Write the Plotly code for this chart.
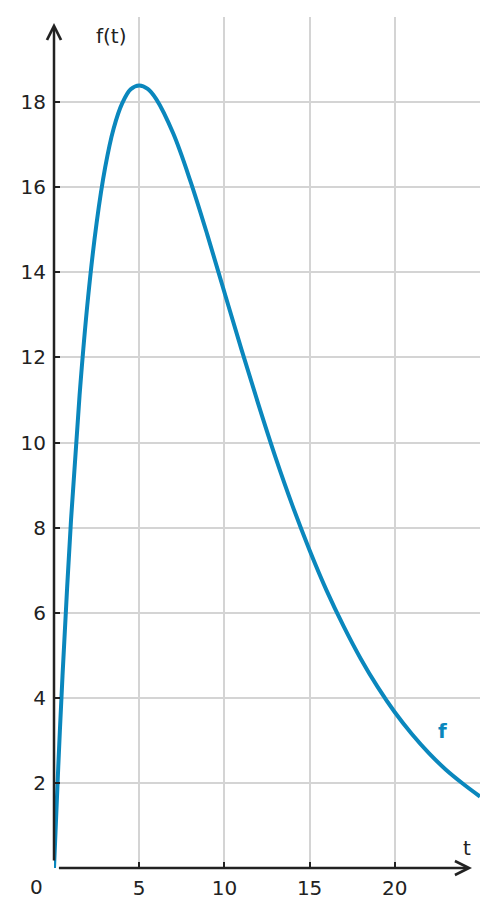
import plotly.graph_objects as go

# values
t = [0, 0.25, 0.5, 1, 1.5, 2, 2.5, 3, 3.5, 4, 4.5, 5, 5.5, 6, 7, 8, 9, 10,
     11, 12, 13, 14, 15, 16, 17, 18, 19, 20, 21, 22, 23, 24, 25]
f = [0, 2.38, 4.52, 8.19, 11.11, 13.41, 15.16, 16.46, 17.38, 17.97, 18.30, 18.39,
     18.31, 18.07, 17.26, 16.15, 14.88, 13.53, 12.19, 10.89, 9.65, 8.51, 7.47,
     6.52, 5.68, 4.92, 4.25, 3.66, 3.15, 2.70, 2.31, 1.98, 1.68]

x_ticks = [5, 10, 15, 20]
y_ticks = [2, 4, 6, 8, 10, 12, 14, 16, 18]

BLUE = "#0a87bd"
INK = "#222222"
GRID = "#d4d4d4"
FONT = "DejaVu Sans"
FS = 20

fig = go.Figure()

fig.add_trace(go.Scatter(
    x=t, y=f,
    mode="lines",
    line=dict(color=BLUE, width=4, shape="spline"),
    hoverinfo="skip",
    showlegend=False,
))

# axis arrows
fig.add_annotation(x=24.53, y=0, ax=0.2, ay=0, xref="x", yref="y", axref="x", ayref="y",
                   text="", showarrow=True, arrowhead=5, arrowsize=1.1, arrowwidth=2.5,
                   arrowcolor=INK)
fig.add_annotation(x=0, y=19.86, ax=0, ay=0.14, xref="x", yref="y", axref="x", ayref="y",
                   text="", showarrow=True, arrowhead=5, arrowsize=1.1, arrowwidth=2.5,
                   arrowcolor=INK)

# labels
fig.add_annotation(x=3.35, y=19.55, xref="x", yref="y", text="f(t)", showarrow=False,
                   font=dict(family=FONT, size=FS, color=INK))
fig.add_annotation(x=24.24, y=0.47, xref="x", yref="y", text="t", showarrow=False,
                   font=dict(family=FONT, size=FS, color=INK))
fig.add_annotation(x=-0.040, y=-0.0223, xref="paper", yref="paper", text="0", showarrow=False,
                   xanchor="center", yanchor="middle",
                   font=dict(family=FONT, size=FS, color=INK))
fig.add_annotation(x=22.77, y=3.22, xref="x", yref="y", text="<b>f</b>", showarrow=False,
                   font=dict(family=FONT, size=FS, color=BLUE))

fig.update_xaxes(
    range=[0, 25], tickvals=x_ticks, ticks="inside", ticklen=6, tickwidth=2,
    tickcolor=INK, showgrid=True, gridcolor=GRID, gridwidth=1.5,
    zeroline=False, showline=False, automargin=False, ticklabelstandoff=6,
    tickfont=dict(family=FONT, size=FS, color=INK),
)
fig.update_yaxes(
    range=[0, 20], tickvals=y_ticks, ticks="inside", ticklen=6, tickwidth=2,
    tickcolor=INK, showgrid=True, gridcolor=GRID, gridwidth=1.5,
    zeroline=False, showline=False, automargin=False, ticklabelstandoff=7,
    tickfont=dict(family=FONT, size=FS, color=INK),
)

# the page adds an 8px body margin, so the figure is drawn a little smaller
fig.update_layout(
    width=489, height=909,
    margin=dict(l=46, r=17, t=9, b=49, autoexpand=False),
    plot_bgcolor="white", paper_bgcolor="white",
    font=dict(family=FONT, size=FS, color=INK),
)

fig.write_html("out.html")
